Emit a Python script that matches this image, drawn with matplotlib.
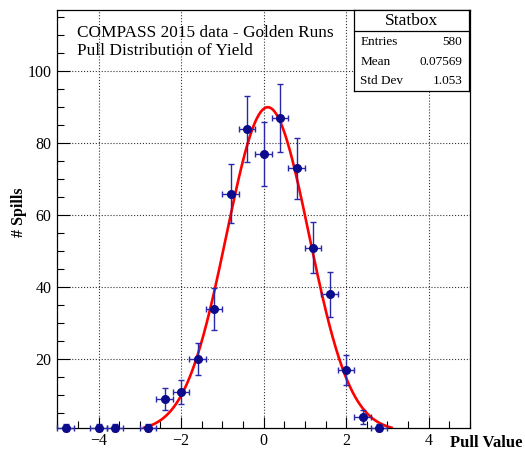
import numpy as np
import matplotlib
matplotlib.use("Agg")
import matplotlib.pyplot as plt
from matplotlib.ticker import MultipleLocator

plt.rcParams['font.family'] = ['Liberation Serif', 'DejaVu Serif']

# histogram bin centres and counts (bin width 0.4)
pull = [-4.8, -4.0, -3.6, -2.8, -2.4, -2.0, -1.6, -1.2, -0.8, -0.4,
        0.0, 0.4, 0.8, 1.2, 1.6, 2.0, 2.4, 2.8]
spills = [1, 1, 1, 1, 9, 11, 20, 34, 66, 84,
          77, 87, 73, 51, 38, 17, 4, 1]
bin_half = 0.2

# gaussian fit
fit_amp = 90.0
fit_mean = 0.1
fit_sigma = 1.0

stat_names = ["Entries", "Mean", "Std Dev"]
stat_values = ["580", "0.07569", "1.053"]

fig = plt.figure(figsize=(5.25, 4.5), dpi=100)
ax = fig.add_axes([57.3/525, 1-427.7/450, (470-57.3)/525, (427.7-10)/450])

ax.grid(True, which='major', linestyle=':', color='#333333', linewidth=0.8)
ax.set_axisbelow(True)

xf = np.linspace(fit_mean - 3*fit_sigma, fit_mean + 3*fit_sigma, 300)
yf = fit_amp * np.exp(-0.5*((xf - fit_mean)/fit_sigma)**2)
ax.plot(xf, yf, color='red', linewidth=1.9, zorder=3)

ax.errorbar(pull, spills, xerr=bin_half, yerr=np.sqrt(spills), fmt='o',
            color='#0b0b8c', ecolor='#2828a8', markersize=5.5, elinewidth=1,
            capsize=2.2, capthick=1, zorder=4, clip_on=False)

ax.set_xlim(-5, 5)
ax.set_ylim(1, 117)
ax.set_xticks([-4, -2, 0, 2, 4])
ax.xaxis.set_minor_locator(MultipleLocator(0.5))
ax.set_yticks([20, 40, 60, 80, 100])
ax.yaxis.set_minor_locator(MultipleLocator(5))
ax.tick_params(which='both', direction='in', labelsize=11.5, pad=4)
ax.tick_params(which='major', length=8, width=0.8)
ax.tick_params(which='minor', length=5, width=0.8)
ax.tick_params(axis='y', which='major', length=9)
for s in ax.spines.values():
    s.set_linewidth(0.9)

ax.text(77/525, 1-37/450, "COMPASS 2015 data - Golden Runs", transform=fig.transFigure,
        fontsize=12.4, va='baseline', ha='left')
ax.text(77/525, 1-55/450, "Pull Distribution of Yield", transform=fig.transFigure,
        fontsize=12.4, va='baseline', ha='left')

fig.text(19/525, 1-212/450, "# Spills", rotation=90, fontsize=11.5, fontweight='bold',
         ha='center', va='center')
fig.text(523/525, 1-447/450, "Pull Value", fontsize=12, fontweight='bold',
         ha='right', va='baseline')

# stat box
sb = fig.add_axes([354/525, 1-90.7/450, 115/525, 80.7/450])
sb.set_xticks([])
sb.set_yticks([])
sb.set_xlim(0, 1)
sb.set_ylim(0, 1)
for s in sb.spines.values():
    s.set_linewidth(0.9)
sb.axhline(0.744, color='black', linewidth=0.9)
sb.text(0.5, 0.867, "Statbox", fontsize=12.5, ha='center', va='center')
rows_y = [0.607, 0.359, 0.116]
for name, val, yy in zip(stat_names, stat_values, rows_y):
    sb.text(0.055, yy, name, fontsize=9.5, ha='left', va='center')
    sb.text(0.94, yy, val, fontsize=9.5, ha='right', va='center')

fig.savefig("out.png", dpi=100)
